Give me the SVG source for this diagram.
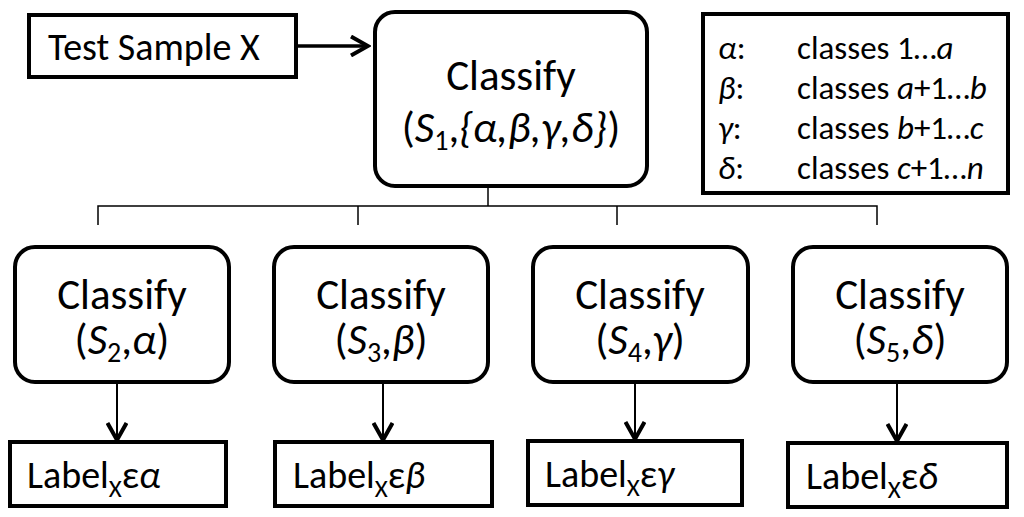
<svg xmlns="http://www.w3.org/2000/svg" width="1024" height="517" viewBox="0 0 1024 517">
<style>
text{font-family:Carlito,Lato,"Open Sans",sans-serif;fill:#000}
.big{font-size:43px;text-anchor:middle}
.leg{font-size:33px}
.lab{font-size:38px}
.tsx{font-size:38px}
.i{font-style:italic}
.box{fill:#fff;stroke:#000;stroke-width:4}
.thin{fill:none;stroke:#000;stroke-width:1.5}
.arr{fill:none;stroke:#000;stroke-width:2}
.arrt{fill:none;stroke:#000;stroke-width:3.3}
</style>
<defs>
<marker id="ahd" viewBox="0 0 22 22" refX="19" refY="11" markerWidth="22" markerHeight="22" markerUnits="userSpaceOnUse" orient="auto">
<path d="M2,1.5 L19,11 L2,20.5" fill="none" stroke="#000" stroke-width="4"/>
</marker>
</defs>
<g id="connectors">
<line class="arrt" x1="296" y1="46" x2="368" y2="46" marker-end="url(#ahd)"/>
<polyline class="thin" points="488,186 488,206"/>
<polyline class="thin" points="98,225 98,206 877,206 877,225"/>
<line class="thin" x1="358" y1="206" x2="358" y2="225"/>
<line class="thin" x1="617" y1="206" x2="617" y2="225"/>
<line class="arr" x1="117" y1="382" x2="117" y2="440" marker-end="url(#ahd)"/>
<line class="arr" x1="383" y1="382" x2="383" y2="440" marker-end="url(#ahd)"/>
<line class="arr" x1="635" y1="382" x2="635" y2="439" marker-end="url(#ahd)"/>
<line class="arr" x1="897" y1="382" x2="897" y2="441" marker-end="url(#ahd)"/>
</g>
<g id="test-sample">
<rect class="box" x="29" y="15" width="267" height="62"/>
<text class="tsx" x="48" y="60">Test Sample X</text>
</g>
<g id="classify-s1">
<rect class="box" x="375" y="12" width="272" height="174" rx="20"/>
<text class="big" x="511" y="90">Classify<tspan x="511" y="142">(</tspan><tspan class="i">S</tspan><tspan font-size="28" dy="8">1</tspan><tspan dy="-8">,</tspan><tspan class="i">{α,β,γ,δ}</tspan>)</text>
</g>
<g id="legend">
<rect class="box" x="703" y="14" width="305" height="179"/>
<text class="leg" x="718" y="59"><tspan class="i">α</tspan>:<tspan x="797">classes 1…</tspan><tspan class="i">a</tspan><tspan x="718" y="99" class="i">β</tspan>:<tspan x="797">classes </tspan><tspan class="i">a</tspan>+1…<tspan class="i">b</tspan><tspan x="718" y="139" class="i">γ</tspan>:<tspan x="797">classes </tspan><tspan class="i">b</tspan>+1…<tspan class="i">c</tspan><tspan x="718" y="179" class="i">δ</tspan>:<tspan x="797">classes </tspan><tspan class="i">c</tspan>+1…<tspan class="i">n</tspan></text>
</g>
<g id="classify-s2">
<rect class="box" x="15" y="247" width="214" height="135" rx="20"/>
<text class="big" x="122" y="309">Classify<tspan x="122" y="354">(</tspan><tspan class="i">S</tspan><tspan font-size="28" dy="8">2</tspan><tspan dy="-8">,</tspan><tspan class="i">α</tspan>)</text>
</g>
<g id="classify-s3">
<rect class="box" x="274" y="247" width="214" height="135" rx="20"/>
<text class="big" x="381" y="309">Classify<tspan x="381" y="354">(</tspan><tspan class="i">S</tspan><tspan font-size="28" dy="8">3</tspan><tspan dy="-8">,</tspan><tspan class="i">β</tspan>)</text>
</g>
<g id="classify-s4">
<rect class="box" x="533" y="247" width="215" height="135" rx="20"/>
<text class="big" x="640" y="309">Classify<tspan x="640" y="354">(</tspan><tspan class="i">S</tspan><tspan font-size="28" dy="8">4</tspan><tspan dy="-8">,</tspan><tspan class="i">γ</tspan>)</text>
</g>
<g id="classify-s5">
<rect class="box" x="793" y="247" width="214" height="135" rx="20"/>
<text class="big" x="900" y="309">Classify<tspan x="900" y="354">(</tspan><tspan class="i">S</tspan><tspan font-size="28" dy="8">5</tspan><tspan dy="-8">,</tspan><tspan class="i">δ</tspan>)</text>
</g>
<g id="label-alpha">
<rect class="box" x="10" y="442" width="216" height="64"/>
<text class="lab" x="27" y="488">Label<tspan font-size="25" dy="9">X</tspan><tspan dy="-9">ε</tspan><tspan class="i">α</tspan></text>
</g>
<g id="label-beta">
<rect class="box" x="275" y="442" width="217" height="64"/>
<text class="lab" x="293" y="488">Label<tspan font-size="25" dy="9">X</tspan><tspan dy="-9">ε</tspan><tspan class="i">β</tspan></text>
</g>
<g id="label-gamma">
<rect class="box" x="528" y="441" width="214" height="64"/>
<text class="lab" x="545" y="487">Label<tspan font-size="25" dy="9">X</tspan><tspan dy="-9">ε</tspan><tspan class="i">γ</tspan></text>
</g>
<g id="label-delta">
<rect class="box" x="788" y="443" width="219" height="64"/>
<text class="lab" x="806" y="489">Label<tspan font-size="25" dy="9">X</tspan><tspan dy="-9">ε</tspan><tspan class="i">δ</tspan></text>
</g>
</svg>
